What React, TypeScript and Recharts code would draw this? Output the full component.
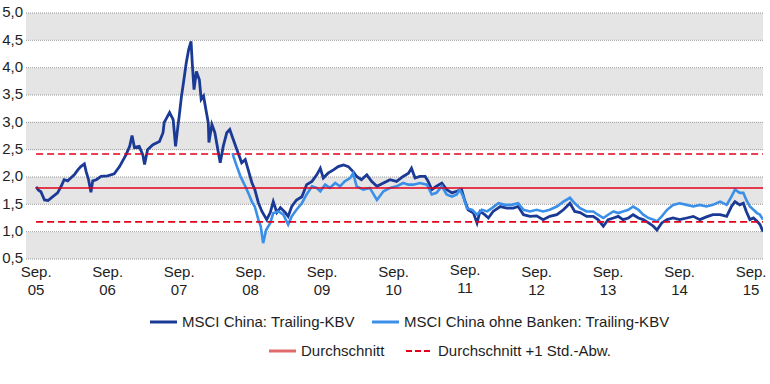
import { CartesianGrid, Line, LineChart, ReferenceLine, XAxis, YAxis } from "recharts";

// months since Sep 2005
const chinaMonths = [
  0, 0.4, 0.8, 1.4, 2.0, 2.8, 3.6, 3.9, 4.2, 4.7, 5.3, 5.9, 6.4, 7.0, 7.5, 8.1, 8.4, 8.8, 9.2, 9.5,
  10.1, 10.9, 12.0, 13.1, 14.0, 14.5, 15.1, 15.7, 16.1, 16.5, 17.3, 17.9, 18.2, 18.7, 19.6, 20.7, 21.3, 21.5, 22.4, 23.0,
  23.4, 23.8, 24.0, 24.4, 24.8, 25.2, 25.6, 26.0, 26.2, 26.5, 26.9, 27.4, 27.7, 28.1, 28.5, 28.9, 29.0, 29.5, 30.0, 30.6,
  30.9, 31.4, 32.0, 32.5, 33.1, 33.9, 34.5, 35.1, 35.6, 36.2, 36.7, 37.3, 37.9, 38.7, 39.3, 39.8, 40.4, 41.0, 41.8, 42.3,
  42.9, 43.7, 44.6, 45.4, 46.3, 47.1, 47.7, 48.2, 49.0, 49.9, 50.7, 51.6, 52.4, 53.2, 53.8, 54.6, 55.5, 56.3, 57.2, 58.3,
  59.4, 60.5, 61.6, 62.5, 63.0, 63.6, 64.4, 65.3, 65.8, 66.4, 67.2, 68.1, 68.9, 69.8, 70.6, 71.4, 72.0, 72.5, 73.4, 74.0,
  74.5, 75.3, 75.9, 76.7, 77.9, 79.0, 80.1, 80.9, 81.8, 82.9, 84.0, 85.1, 86.2, 87.4, 88.5, 89.6, 90.4, 91.3, 92.4, 93.5,
  94.3, 95.2, 96.0, 96.9, 97.7, 98.5, 99.4, 100.2, 101.1, 101.9, 102.8, 103.6, 104.2, 105.0, 105.9, 106.9, 108.0, 109.2, 110.3, 111.4,
  112.5, 113.6, 114.8, 115.9, 116.7, 117.3, 118.1, 118.7, 119.2, 119.8, 120.4, 121.0, 121.5, 122.0,
];
const chinaKbv = [
  1.82, 1.76, 1.73, 1.58, 1.57, 1.64, 1.71, 1.77, 1.83, 1.95, 1.93, 1.99, 2.04, 2.13, 2.19, 2.24, 2.10, 1.95, 1.72, 1.93,
  1.95, 2.01, 2.02, 2.06, 2.19, 2.29, 2.41, 2.56, 2.76, 2.54, 2.56, 2.41, 2.23, 2.50, 2.59, 2.65, 2.81, 3.00, 3.18, 3.05,
  2.56, 2.93, 3.10, 3.48, 3.78, 4.09, 4.33, 4.48, 4.09, 3.60, 3.93, 3.78, 3.42, 3.48, 3.23, 2.99, 2.63, 2.96, 2.81, 2.44,
  2.26, 2.56, 2.81, 2.87, 2.68, 2.44, 2.26, 2.32, 2.13, 1.90, 1.77, 1.53, 1.37, 1.22, 1.35, 1.55, 1.35, 1.44, 1.35, 1.28,
  1.46, 1.58, 1.64, 1.86, 1.92, 2.04, 2.16, 1.98, 2.07, 2.13, 2.19, 2.22, 2.19, 2.10, 2.01, 1.95, 2.04, 1.92, 1.83, 1.89,
  1.95, 1.92, 2.01, 2.07, 2.16, 1.98, 2.01, 2.01, 1.92, 1.77, 1.83, 1.89, 1.77, 1.71, 1.74, 1.77, 1.55, 1.40, 1.34, 1.16,
  1.37, 1.31, 1.25, 1.37, 1.46, 1.43, 1.43, 1.46, 1.31, 1.28, 1.29, 1.22, 1.28, 1.31, 1.40, 1.52, 1.37, 1.35, 1.28, 1.28,
  1.22, 1.10, 1.22, 1.25, 1.28, 1.22, 1.25, 1.31, 1.25, 1.22, 1.16, 1.10, 1.03, 1.16, 1.22, 1.25, 1.22, 1.25, 1.28, 1.22,
  1.27, 1.31, 1.31, 1.28, 1.46, 1.55, 1.49, 1.52, 1.37, 1.22, 1.25, 1.19, 1.13, 1.00,
];

const exBankMonths = [
  33.0, 33.1, 33.7, 34.3, 35.1, 35.6, 36.2, 36.7, 37.3, 37.7, 38.1, 38.6, 39.3, 39.8, 40.7, 41.5, 42.3, 42.9, 43.7, 44.6,
  45.4, 46.3, 47.1, 47.7, 48.5, 49.3, 50.2, 51.0, 51.8, 52.7, 53.2, 53.8, 54.9, 56.0, 57.2, 58.3, 59.4, 60.5, 61.6, 62.5,
  63.3, 64.4, 65.6, 66.4, 67.2, 68.1, 68.9, 69.8, 70.6, 71.1, 71.7, 72.3, 73.2, 74.0, 74.8, 75.7, 76.5, 77.6, 78.7, 79.8,
  80.9, 81.8, 82.9, 84.0, 85.1, 86.2, 87.4, 88.5, 89.6, 90.4, 91.3, 92.4, 93.5, 94.3, 95.2, 96.0, 96.9, 97.7, 98.5, 99.4,
  100.2, 101.1, 101.9, 102.8, 103.6, 104.2, 105.0, 105.9, 106.9, 108.0, 109.2, 110.3, 111.4, 112.5, 113.6, 114.8, 115.9, 116.7, 117.3, 118.1,
  118.7, 119.2, 119.8, 120.4, 121.0, 121.5, 122.0,
];
const exBankKbv = [
  2.44, 2.38, 2.19, 2.01, 1.83, 1.71, 1.55, 1.46, 1.22, 1.10, 0.79, 1.03, 1.16, 1.34, 1.37, 1.31, 1.13, 1.28, 1.40, 1.52,
  1.68, 1.83, 1.80, 1.74, 1.86, 1.80, 1.89, 1.83, 1.92, 1.98, 2.07, 1.83, 1.77, 1.80, 1.58, 1.74, 1.80, 1.83, 1.89, 1.86,
  1.86, 1.89, 1.86, 1.68, 1.71, 1.83, 1.68, 1.64, 1.68, 1.77, 1.64, 1.43, 1.40, 1.31, 1.40, 1.37, 1.43, 1.52, 1.49, 1.49,
  1.52, 1.40, 1.37, 1.40, 1.37, 1.40, 1.46, 1.55, 1.62, 1.52, 1.43, 1.37, 1.37, 1.31, 1.25, 1.31, 1.37, 1.34, 1.37, 1.40,
  1.46, 1.40, 1.31, 1.25, 1.22, 1.19, 1.28, 1.40, 1.49, 1.52, 1.49, 1.46, 1.49, 1.46, 1.49, 1.55, 1.49, 1.64, 1.77, 1.71,
  1.71, 1.58, 1.46, 1.40, 1.34, 1.31, 1.22,
];

const average = 1.8;
const averagePlusSd = 2.42;
const averageMinusSd = 1.18;
const seriesStart = 0;
const seriesEnd = 122;

const xTicks = [0, 12, 24, 36, 48, 60, 72, 84, 96, 108, 120];
const yTicks = [0.5, 1, 1.5, 2, 2.5, 3, 3.5, 4, 4.5, 5];

const chinaData = chinaMonths.map((m, i) => ({ m, v: chinaKbv[i] }));
const exBankData = exBankMonths.map((m, i) => ({ m, v: exBankKbv[i] }));

const FONT = '"Liberation Sans", Arial, Helvetica, sans-serif';
const DARK = "#1b3a96";
const LIGHT = "#3a8fe8";
const RED = "#e3001b";
const TEXT = "#1e1e1e";

function SepTick({ x, y, payload }: any) {
  const yy = String(5 + payload.value / 12).padStart(2, "0");
  const lift = payload.value === 72 ? -2 : 0;
  return (
    <text x={x} y={y + lift} textAnchor="middle" fill={TEXT} fontSize={15} fontFamily={FONT}>
      <tspan x={x} dy={18}>Sep.</tspan>
      <tspan x={x} dy={18}>{yy}</tspan>
    </text>
  );
}

function LegendItem({ left, top, color, dashed, label }: { left: number; top: number; color: string; dashed?: boolean; label: string }) {
  return (
    <div style={{ position: "absolute", left, top, display: "flex", alignItems: "center", whiteSpace: "nowrap" }}>
      <svg width={27} height={4} style={{ marginRight: 5 }}>
        <line x1={0} y1={2} x2={27} y2={2} stroke={color} strokeWidth={dashed ? 2 : 3} strokeDasharray={dashed ? "6 3" : undefined} />
      </svg>
      <span style={{ fontSize: 15, lineHeight: "18px", color: TEXT, fontFamily: FONT }}>{label}</span>
    </div>
  );
}

export default function App() {
  return (
    <div style={{ position: "absolute", left: 0, top: 0, width: 770, height: 384, background: "#fff", fontFamily: FONT }}>
      <LineChart width={770} height={300} margin={{ top: 13, right: 7, bottom: 1, left: 0 }}>
        <CartesianGrid
          vertical={false}
          stroke="#9a9a9a"
          strokeDasharray="1 1"
          horizontalFill={["#e5e5e5", "#ffffff"]}
          fillOpacity={1}
        />
        <XAxis
          type="number"
          dataKey="m"
          domain={[-1.7, 122]}
          ticks={xTicks}
          allowDataOverflow
          axisLine={false}
          tickLine={false}
          tickSize={0}
          tickMargin={0}
          height={40}
          tick={<SepTick />}
          interval={0}
        />
        <YAxis
          type="number"
          domain={[0.5, 5]}
          ticks={yTicks}
          width={26}
          axisLine={false}
          tickLine={false}
          tickSize={0}
          tickMargin={3}
          tick={{ fill: TEXT, fontSize: 15, fontFamily: FONT, dy: -1 }}
          tickFormatter={(v: number) => v.toFixed(1).replace(".", ",")}
          interval={0}
        />
        <Line data={chinaData} dataKey="v" type="linear" stroke={DARK} strokeWidth={2.8} dot={false} isAnimationActive={false} />
        <Line data={exBankData} dataKey="v" type="linear" stroke={LIGHT} strokeWidth={2.6} dot={false} isAnimationActive={false} />
        <ReferenceLine segment={[{ x: seriesStart, y: average }, { x: seriesEnd, y: average }]} stroke={RED} strokeWidth={1.6} />
        <ReferenceLine segment={[{ x: seriesStart, y: averagePlusSd }, { x: seriesEnd, y: averagePlusSd }]} stroke={RED} strokeWidth={1.6} strokeDasharray="7 4" />
        <ReferenceLine segment={[{ x: seriesStart, y: averageMinusSd }, { x: seriesEnd, y: averageMinusSd }]} stroke={RED} strokeWidth={1.6} strokeDasharray="7 4" />
      </LineChart>
      <LegendItem left={150} top={313} color={DARK} label="MSCI China: Trailing-KBV" />
      <LegendItem left={372} top={313} color={LIGHT} label="MSCI China ohne Banken: Trailing-KBV" />
      <LegendItem left={269} top={342} color="#e06a6a" label="Durchschnitt" />
      <LegendItem left={406} top={342} color={RED} dashed label="Durchschnitt +1 Std.-Abw." />
    </div>
  );
}
